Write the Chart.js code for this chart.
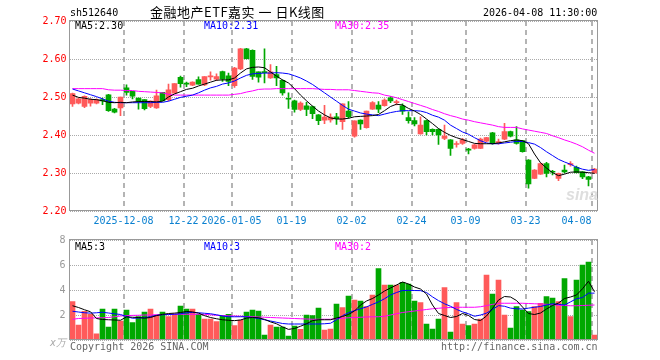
<!DOCTYPE html>
<html>
<head>
<meta charset="utf-8">
<script src="https://cdn.jsdelivr.net/npm/chart.js@4.4.1/dist/chart.umd.min.js"></script>
<style>
body { margin: 0; background: #fff; }
#box { position: relative; width: 660px; height: 360px; overflow: hidden;
       font-family: 'DejaVu Sans Mono', monospace; font-size: 10px; line-height: 10px; }
#box div { position: absolute; white-space: pre; }
canvas { position: absolute; left: 0; }
</style>
</head>
<body>
<div id="box">
  <canvas id="kline" width="660" height="230" style="top:0"></canvas>
  <canvas id="vol" width="660" height="130" style="top:230px"></canvas>

  <div style="left:70px;top:8px">sh512640</div>
  <div style="left:150px;top:5px;font:13px/13px 'Noto Sans CJK SC';letter-spacing:0.5px">金融地产ETF嘉实 一 日K线图</div>
  <div style="left:483px;top:8px">2026-04-08 11:30:00</div>

  <div style="left:75px;top:21px">MA5:2.30</div>
  <div style="left:204px;top:21px;color:#0000ff">MA10:2.31</div>
  <div style="left:335px;top:21px;color:#ff00ff">MA30:2.35</div>

  <div style="left:566px;top:186px;font:italic bold 16px 'Liberation Sans';color:#dedede">sina</div>

  <div style="left:75px;top:242px">MA5:3</div>
  <div style="left:204px;top:242px;color:#0000ff">MA10:3</div>
  <div style="left:335px;top:242px;color:#ff00ff">MA30:2</div>

  <div style="left:50px;top:338px;color:#aaa;font-style:italic">x万</div>
  <div style="left:70px;top:342px;color:#666">Copyright 2026 SINA.COM</div>
  <div style="left:441px;top:342px;color:#666">http://finance.sina.com.cn</div>
</div>

<script>
const dates = [
  '2025-11-25','2025-11-26','2025-11-27','2025-11-28',
  '2025-12-01','2025-12-02','2025-12-03','2025-12-04','2025-12-05',
  '2025-12-08','2025-12-09','2025-12-10','2025-12-11','2025-12-12',
  '2025-12-15','2025-12-16','2025-12-17','2025-12-18','2025-12-19',
  '2025-12-22','2025-12-23','2025-12-24','2025-12-25','2025-12-26',
  '2025-12-29','2025-12-30','2025-12-31',
  '2026-01-05','2026-01-06','2026-01-07','2026-01-08','2026-01-09',
  '2026-01-12','2026-01-13','2026-01-14','2026-01-15','2026-01-16',
  '2026-01-19','2026-01-20','2026-01-21','2026-01-22','2026-01-23',
  '2026-01-26','2026-01-27','2026-01-28','2026-01-29','2026-01-30',
  '2026-02-02','2026-02-03','2026-02-04','2026-02-05','2026-02-06',
  '2026-02-09','2026-02-10','2026-02-11','2026-02-12','2026-02-13',
  '2026-02-24','2026-02-25','2026-02-26','2026-02-27',
  '2026-03-02','2026-03-03','2026-03-04','2026-03-05','2026-03-06',
  '2026-03-09','2026-03-10','2026-03-11','2026-03-12','2026-03-13',
  '2026-03-16','2026-03-17','2026-03-18','2026-03-19','2026-03-20',
  '2026-03-23','2026-03-24','2026-03-25','2026-03-26','2026-03-27',
  '2026-03-30','2026-03-31','2026-04-01','2026-04-02','2026-04-03',
  '2026-04-07','2026-04-08'
];

const tickDates = ['2025-12-08','2025-12-22','2026-01-05','2026-01-19','2026-02-02',
                   '2026-02-24','2026-03-09','2026-03-23','2026-04-08'];
const tickTexts = ['2025-12-08','12-22','2026-01-05','01-19','02-02','02-24','03-09','03-23','04-08'];

const open = [
  2.482,2.484,2.475,2.484,2.484,2.493,2.506,2.468,2.471,2.524,
  2.515,2.497,2.493,2.475,2.471,2.512,2.493,2.510,2.552,2.536,
  2.531,2.546,2.532,2.553,2.547,2.567,2.556,2.530,2.574,2.627,
  2.623,2.566,2.566,2.550,2.559,2.544,2.496,2.490,2.467,2.477,
  2.475,2.453,2.439,2.440,2.448,2.435,2.463,2.397,2.439,2.419,
  2.468,2.479,2.477,2.498,2.485,2.477,2.446,2.438,2.403,2.438,
  2.415,2.415,2.391,2.387,2.375,2.378,2.362,2.365,2.365,2.384,
  2.406,2.380,2.389,2.409,2.387,2.385,2.334,2.286,2.297,2.325,
  2.304,2.286,2.308,2.322,2.315,2.303,2.290,2.300
];
const high = [
  2.510,2.497,2.503,2.496,2.495,2.497,2.507,2.470,2.500,2.532,
  2.515,2.497,2.493,2.490,2.518,2.512,2.534,2.535,2.555,2.539,
  2.540,2.553,2.554,2.566,2.561,2.568,2.563,2.578,2.628,2.628,
  2.624,2.566,2.627,2.585,2.581,2.545,2.511,2.492,2.487,2.486,
  2.476,2.454,2.478,2.456,2.457,2.482,2.488,2.437,2.440,2.463,
  2.488,2.488,2.495,2.501,2.492,2.482,2.461,2.446,2.448,2.439,
  2.416,2.416,2.426,2.388,2.383,2.391,2.365,2.376,2.392,2.394,
  2.407,2.389,2.431,2.410,2.422,2.386,2.335,2.309,2.326,2.328,
  2.307,2.300,2.321,2.330,2.318,2.304,2.291,2.312
];
const low = [
  2.475,2.482,2.472,2.476,2.482,2.480,2.462,2.458,2.451,2.505,
  2.495,2.468,2.466,2.472,2.470,2.490,2.490,2.510,2.526,2.527,
  2.530,2.534,2.530,2.544,2.543,2.541,2.530,2.525,2.572,2.600,
  2.546,2.539,2.537,2.549,2.530,2.505,2.470,2.460,2.464,2.451,
  2.443,2.427,2.430,2.434,2.428,2.415,2.444,2.394,2.415,2.418,
  2.467,2.459,2.476,2.485,2.479,2.454,2.431,2.424,2.402,2.400,
  2.400,2.375,2.388,2.346,2.368,2.375,2.350,2.363,2.364,2.382,
  2.376,2.376,2.388,2.395,2.376,2.355,2.260,2.285,2.296,2.290,
  2.295,2.280,2.300,2.318,2.300,2.285,2.266,2.299
];
const close = [
  2.509,2.495,2.502,2.493,2.493,2.490,2.464,2.460,2.500,2.512,
  2.502,2.489,2.469,2.489,2.503,2.490,2.519,2.535,2.535,2.534,
  2.539,2.534,2.554,2.555,2.554,2.547,2.541,2.576,2.627,2.601,
  2.554,2.552,2.564,2.566,2.550,2.511,2.494,2.467,2.484,2.467,
  2.456,2.438,2.447,2.447,2.443,2.482,2.448,2.437,2.429,2.463,
  2.485,2.468,2.492,2.490,2.487,2.463,2.438,2.429,2.426,2.409,
  2.409,2.400,2.397,2.365,2.377,2.387,2.360,2.374,2.389,2.393,
  2.378,2.382,2.409,2.397,2.378,2.356,2.271,2.308,2.325,2.299,
  2.302,2.299,2.303,2.324,2.301,2.290,2.283,2.310
];

const ma5 = [
  2.505,2.499,2.497,2.494,2.493,2.490,2.486,2.485,2.486,2.485,
  2.487,2.488,2.488,2.488,2.487,2.489,2.500,2.508,2.514,2.520,
  2.523,2.529,2.534,2.539,2.544,2.545,2.545,2.550,2.563,2.574,
  2.578,2.579,2.577,2.566,2.555,2.545,2.537,2.522,2.505,2.490,
  2.476,2.463,2.453,2.445,2.442,2.442,2.444,2.448,2.449,2.450,
  2.451,2.454,2.464,2.475,2.481,2.479,2.470,2.463,2.454,2.442,
  2.430,2.417,2.407,2.399,2.393,2.388,2.383,2.378,2.377,2.377,
  2.377,2.379,2.382,2.385,2.387,2.385,2.377,2.350,2.327,2.313,
  2.301,2.293,2.297,2.302,2.303,2.302,2.301,2.299
];
const ma10 = [
  2.521,2.516,2.511,2.506,2.501,2.495,2.489,2.486,2.485,2.485,
  2.485,2.485,2.485,2.485,2.486,2.486,2.489,2.494,2.499,2.502,
  2.505,2.511,2.518,2.524,2.528,2.534,2.537,2.542,2.550,2.557,
  2.561,2.562,2.563,2.563,2.564,2.563,2.561,2.556,2.550,2.542,
  2.533,2.522,2.511,2.500,2.489,2.478,2.468,2.463,2.458,2.455,
  2.453,2.451,2.455,2.459,2.462,2.464,2.464,2.464,2.463,2.459,
  2.452,2.447,2.439,2.426,2.417,2.408,2.402,2.393,2.385,2.379,
  2.377,2.377,2.379,2.381,2.383,2.383,2.380,2.376,2.367,2.356,
  2.346,2.336,2.329,2.323,2.315,2.310,2.307,2.309
];
const ma30 = [
  2.522,2.522,2.522,2.522,2.522,2.522,2.519,2.518,2.518,2.517,
  2.517,2.515,2.514,2.513,2.512,2.511,2.507,2.505,2.505,2.505,
  2.505,2.505,2.505,2.505,2.505,2.505,2.505,2.507,2.509,2.513,
  2.516,2.520,2.521,2.521,2.522,2.522,2.522,2.522,2.522,2.522,
  2.522,2.521,2.520,2.520,2.519,2.519,2.519,2.517,2.515,2.513,
  2.511,2.510,2.505,2.502,2.498,2.493,2.488,2.483,2.478,2.473,
  2.467,2.462,2.456,2.451,2.447,2.442,2.439,2.435,2.432,2.429,
  2.426,2.422,2.420,2.420,2.420,2.416,2.413,2.410,2.407,2.404,
  2.398,2.393,2.387,2.382,2.376,2.369,2.360,2.352
];

// volume, in 10k lots
const volume = [
  3.07,1.20,2.30,2.05,0.50,2.48,1.04,2.48,1.52,2.40,
  1.39,1.87,2.24,2.48,2.00,2.24,1.87,2.08,2.72,2.48,
  2.48,2.05,1.68,1.68,1.47,1.95,2.05,1.15,1.60,2.24,
  2.40,2.32,0.40,1.20,1.04,1.04,0.32,1.12,0.85,2.00,
  1.95,2.56,0.80,0.88,2.88,2.59,3.52,3.20,3.12,2.67,
  3.60,5.71,4.40,4.40,4.40,4.61,4.48,3.12,2.99,1.28,
  0.88,1.68,4.19,0.64,2.99,1.28,1.15,1.28,1.68,5.20,
  3.68,4.80,2.00,0.96,2.67,2.40,2.27,2.67,2.93,3.47,
  3.36,3.07,4.91,1.87,4.80,6.00,6.24,0.40
];
const volMa5 = [
  2.74,2.60,2.42,2.26,1.72,1.64,1.62,1.60,1.58,1.85,
  1.82,1.80,1.75,1.80,1.95,2.05,2.12,2.15,2.20,2.28,
  2.25,2.15,1.95,1.80,1.70,1.62,1.58,1.55,1.60,1.75,
  1.80,1.78,1.65,1.45,1.30,1.05,0.85,0.92,1.10,1.30,
  1.55,1.62,1.62,1.62,1.76,1.88,2.04,2.32,2.80,3.12,
  3.32,3.60,3.92,4.16,4.40,4.64,4.48,4.24,4.08,3.68,
  2.80,2.12,1.96,1.80,1.88,2.12,1.96,1.64,1.56,1.92,
  2.52,3.20,3.48,3.44,3.16,2.64,2.12,2.04,2.16,2.48,
  2.76,2.96,3.32,3.44,3.60,4.10,4.70,3.86
];
const volMa10 = [
  2.30,2.24,2.18,2.15,2.18,2.22,2.16,2.10,2.04,1.88,
  1.74,1.76,1.78,1.88,1.98,2.02,2.04,2.06,2.10,2.18,
  2.20,2.18,2.14,2.10,2.02,1.92,1.86,1.86,1.86,1.86,
  1.80,1.72,1.62,1.52,1.42,1.32,1.28,1.28,1.28,1.28,
  1.28,1.28,1.30,1.34,1.62,1.95,2.18,2.35,2.50,2.65,
  2.85,3.05,3.30,3.60,3.80,3.96,3.97,3.96,3.95,3.80,
  3.45,3.15,2.90,2.70,2.45,2.25,2.10,1.90,2.00,2.15,
  2.45,2.75,2.70,2.55,2.50,2.48,2.55,2.62,2.68,2.80,
  2.90,2.85,2.80,3.05,3.30,3.40,3.75,3.75
];
const volMa30 = [
  1.66,1.72,1.74,1.76,1.77,1.78,1.80,1.86,1.92,1.95,
  1.97,1.98,2.00,2.00,2.02,2.04,2.05,2.06,2.06,2.06,
  2.06,2.06,2.05,2.02,1.98,1.95,1.94,1.92,1.90,1.88,
  1.86,1.84,1.82,1.80,1.78,1.76,1.74,1.72,1.70,1.68,
  1.66,1.66,1.66,1.66,1.70,1.74,1.78,1.80,1.82,1.84,
  1.86,1.86,1.90,2.00,2.10,2.20,2.26,2.32,2.38,2.44,
  2.50,2.54,2.58,2.60,2.62,2.62,2.62,2.62,2.66,2.75,
  2.85,2.94,2.94,2.94,2.94,2.94,2.92,2.90,2.88,2.86,
  2.82,2.78,2.76,2.74,2.74,2.76,2.78,2.80
];

const UP = '#ff5a5a';
const DOWN = '#00a800';
const candleColor = close.map((c, i) => c >= open[i] ? UP : DOWN);

Chart.defaults.font.family = "'DejaVu Sans Mono', monospace";
Chart.defaults.font.size = 10;
Chart.defaults.animation = false;

// grey box round the plot area
const frame = {
  id: 'frame',
  afterDraw(chart) {
    const { ctx, chartArea: a } = chart;
    ctx.save();
    ctx.strokeStyle = '#999';
    ctx.lineWidth = 1;
    ctx.strokeRect(a.left, a.top - 0.5, a.right - a.left, a.bottom - a.top);
    ctx.restore();
  }
};

const tickIndex = tickDates.map(d => dates.indexOf(d));

function xScale(showLabels) {
  return {
    type: 'category',
    offset: true,
    grid: {
      offset: true,
      drawTicks: false,
      lineWidth: 2,
      color: c => tickIndex.includes(c.index) ? '#b4b4b4' : 'rgba(0,0,0,0)'
    },
    border: { display: false, dash: [5, 4] },
    ticks: {
      display: showLabels,
      autoSkip: false,
      maxRotation: 0,
      minRotation: 0,
      padding: 4,
      labelOffset: -3,
      color: '#0a80d0',
      callback: (v, i) => {
        const k = tickDates.indexOf(dates[i]);
        if (k < 0) return '';
        // the last label is pushed left so it stays inside the frame
        return i === dates.length - 1 ? tickTexts[k].padEnd(10) : tickTexts[k];
      }
    },
    afterFit: s => { s.height = showLabels ? 19 : 20; }
  };
}

function lineSet(data, color) {
  return { type: 'line', data, borderColor: color, borderWidth: 1,
           pointRadius: 0, tension: 0, order: 0 };
}

new Chart(document.getElementById('kline'), {
  type: 'bar',
  data: {
    labels: dates,
    datasets: [
      lineSet(ma5, '#000000'),
      lineSet(ma10, '#0000ff'),
      lineSet(ma30, '#ff00ff'),
      {
        data: low.map((l, i) => [l, high[i]]),
        backgroundColor: candleColor,
        barThickness: 1,
        grouped: false,
        order: 2
      },
      {
        data: open.map((o, i) => [o, close[i]]),
        backgroundColor: candleColor,
        barThickness: 5,
        minBarLength: 1,
        grouped: false,
        order: 1
      }
    ]
  },
  options: {
    responsive: false,
    layout: { padding: { top: 21, right: 62.5, left: 0, bottom: 0 } },
    plugins: { legend: { display: false }, tooltip: { enabled: false } },
    scales: {
      x: xScale(true),
      y: {
        min: 2.2,
        max: 2.7,
        grid: { color: '#aaa', lineWidth: 1, drawTicks: false },
        border: { display: false, dash: [1, 1] },
        ticks: { stepSize: 0.1, padding: 3, color: '#ff0000',
                 callback: v => v.toFixed(2) },
        afterFit: s => { s.width = 69.5; }
      }
    }
  },
  plugins: [frame]
});

new Chart(document.getElementById('vol'), {
  type: 'bar',
  data: {
    labels: dates,
    datasets: [
      lineSet(volMa5, '#000000'),
      lineSet(volMa10, '#0000ff'),
      lineSet(volMa30, '#ff00ff'),
      {
        data: volume,
        backgroundColor: candleColor,
        barThickness: 5,
        order: 1
      }
    ]
  },
  options: {
    responsive: false,
    layout: { padding: { top: 10, right: 62.5, left: 0, bottom: 0 } },
    plugins: { legend: { display: false }, tooltip: { enabled: false } },
    scales: {
      x: xScale(false),
      y: {
        min: 0,
        max: 8,
        grid: { color: '#aaa', lineWidth: 1, drawTicks: false },
        border: { display: false, dash: [1, 1] },
        ticks: { stepSize: 2, padding: 4, color: '#999',
                 callback: v => v === 0 ? '' : v },
        afterFit: s => { s.width = 69.5; }
      }
    }
  },
  plugins: [frame]
});
</script>
</body>
</html>
